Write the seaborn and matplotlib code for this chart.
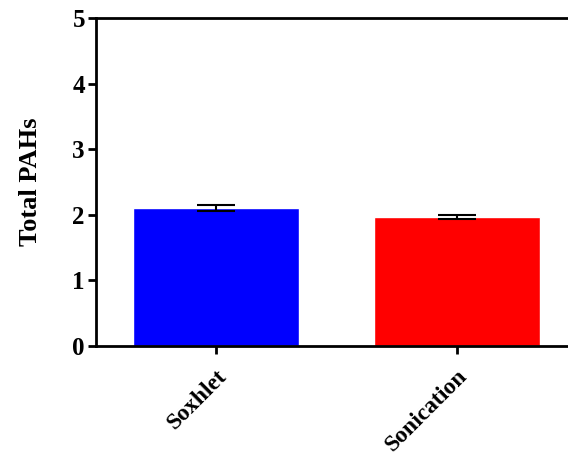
import matplotlib
matplotlib.use("Agg")
import matplotlib.pyplot as plt
import seaborn as sns
import pandas as pd

categories = ["Soxhlet", "Sonication"]
means = [2.10, 1.96]
errors = [0.05, 0.03]
colors = ["#0000FF", "#FF0000"]

sns.set_theme(style="white")
plt.rcParams["font.family"] = ["Liberation Serif", "DejaVu Serif"]
plt.rcParams["font.weight"] = "bold"
plt.rcParams["text.color"] = "black"
plt.rcParams["axes.labelcolor"] = "black"
plt.rcParams["xtick.color"] = "black"
plt.rcParams["ytick.color"] = "black"

df = pd.DataFrame({"method": categories, "value": means})

fig = plt.figure(figsize=(5.68, 4.55), dpi=100)
ax = fig.add_axes([0.169, 0.2396, 0.835, 0.7209])

sns.barplot(data=df, x="method", y="value", hue="method", palette=colors,
            order=categories, width=0.69, ax=ax, legend=False, errorbar=None,
            saturation=1)
ax.errorbar(range(len(categories)), means, yerr=errors, fmt="none",
            ecolor="black", elinewidth=1.5, capsize=14, capthick=1.5, zorder=5)

ax.set_ylim(0, 5)
ax.set_xlim(-0.5, 1.47)
ax.set_yticks([0, 1, 2, 3, 4, 5])
ax.set_yticklabels(["0", "1", "2", "3", "4", "5"], fontsize=18, fontweight="bold")
ax.set_xticks(range(len(categories)))
ax.set_xticklabels(categories, rotation=45, ha="right", rotation_mode="anchor",
                   fontsize=17, fontweight="bold")
ax.set_xlabel("")
ax.set_ylabel("Total PAHs", fontsize=19, fontweight="bold", labelpad=22)

for s in ["left", "bottom", "top"]:
    ax.spines[s].set_visible(True)
    ax.spines[s].set_linewidth(2)
    ax.spines[s].set_color("black")
ax.spines["right"].set_visible(False)
ax.tick_params(axis="both", which="major", direction="out", length=6, width=2,
               color="black", bottom=True, left=True, pad=2)
ax.tick_params(axis="x", pad=8)

fig.savefig("out.png", dpi=100)
